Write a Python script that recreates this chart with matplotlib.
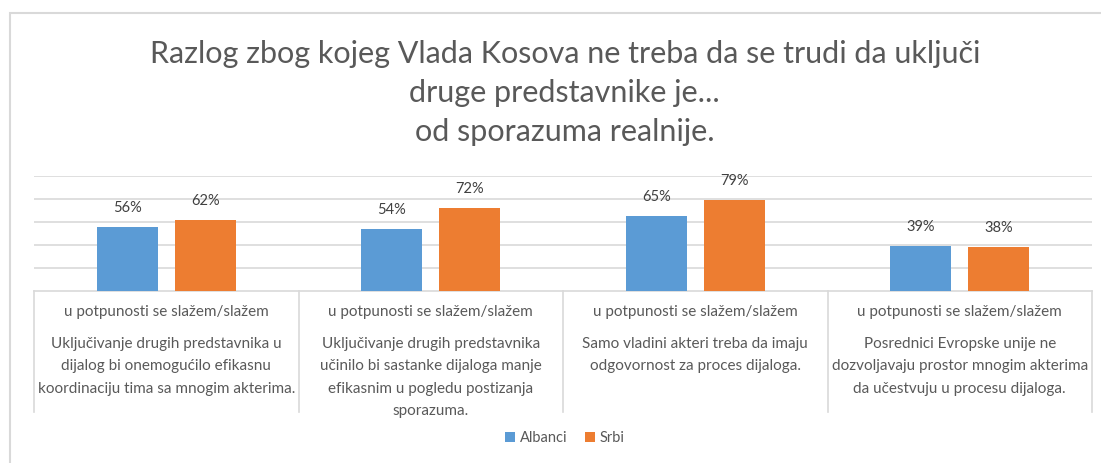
import matplotlib
matplotlib.use("Agg")
import matplotlib.pyplot as plt
import matplotlib.patches as mpatches
import matplotlib.transforms as mtransforms
import numpy as np

plt.rcParams['font.family'] = ['Lato', 'DejaVu Sans']

# data
inner_label = "u potpunosti se slažem/slažem"
statements = [
    "Uključivanje drugih predstavnika u\ndijalog bi onemogućilo efikasnu\nkoordinaciju tima sa mnogim akterima.",
    "Uključivanje drugih predstavnika\nučinilo bi sastanke dijaloga manje\nefikasnim u pogledu postizanja\nsporazuma.",
    "Samo vladini akteri treba da imaju\nodgovornost za proces dijaloga.",
    "Posrednici Evropske unije ne\ndozvoljavaju prostor mnogim akterima\nda učestvuju u procesu dijaloga.",
]
albanci = [56, 54, 65, 39]
srbi = [62, 72, 79, 38]
series_names = ["Albanci", "Srbi"]
colors = ["#5B9BD5", "#ED7D31"]
title = "Razlog zbog kojeg Vlada Kosova ne treba da se trudi da uključi\ndruge predstavnike je...\nod sporazuma realnije."

W, H = 1101, 463
fig = plt.figure(figsize=(W / 100, H / 100), dpi=100)
ax = fig.add_axes([34 / W, (H - 291) / H, (1092 - 34) / W, 115 / H])

x = np.arange(len(statements))
bw = 0.231
off = 0.147
grey = "#d9d9d9"
txt = "#595959"

for i, (vals, name, col) in enumerate(zip([albanci, srbi], series_names, colors)):
    pos = x + (-off if i == 0 else off)
    bars = ax.bar(pos, vals, bw, color=col, label=name, zorder=3)
    for b, v in zip(bars, vals):
        ax.annotate(f"{v}%", (b.get_x() + b.get_width() / 2, v),
                    xytext=(0, 8.5), textcoords="offset points",
                    ha="center", va="bottom", fontsize=10.5, color="#404040")

ax.set_xlim(-0.5, len(statements) - 0.5)
ax.set_ylim(0, 100)
ax.set_yticks([20, 40, 60, 80, 100])
ax.yaxis.grid(True, color=grey, lw=1.2, zorder=0)
ax.tick_params(left=False, labelleft=False, bottom=False, labelbottom=False)
for s in ["left", "right", "top"]:
    ax.spines[s].set_visible(False)
ax.spines["bottom"].set_color(grey)
ax.spines["bottom"].set_linewidth(1.2)

# category boxes under the axis
trans = mtransforms.blended_transform_factory(ax.transData, ax.transAxes)
box_bottom = -(412 - 291) / 115
for xe in np.arange(-0.5, len(statements), 1.0):
    ax.plot([xe, xe], [0, box_bottom], transform=trans, color=grey, lw=1.2, clip_on=False)
for i, st in enumerate(statements):
    ax.text(i, -(312 - 291) / 115, inner_label, transform=trans, ha="center", va="center",
            fontsize=11, color=txt)
    ax.text(i, -(337 - 291) / 115, st, transform=trans, ha="center", va="top",
            fontsize=11, color=txt, linespacing=1.76)

fig.text(0.513, (H - 93) / H, title, ha="center", va="center", fontsize=22,
         color=txt, linespacing=1.5)

fig.legend(loc="center", bbox_to_anchor=(0.513, (H - 438) / H), ncol=2, frameon=False,
           handlelength=0.7, handleheight=0.7, handletextpad=0.3, columnspacing=1.2,
           fontsize=10.5, labelcolor=txt)

fig.patches.append(mpatches.Rectangle((10 / W, -0.1), 1.2, (H - 13) / H + 0.1,
                                      transform=fig.transFigure, fill=False,
                                      edgecolor=grey, lw=1.5))

fig.savefig("out.png", dpi=100)
